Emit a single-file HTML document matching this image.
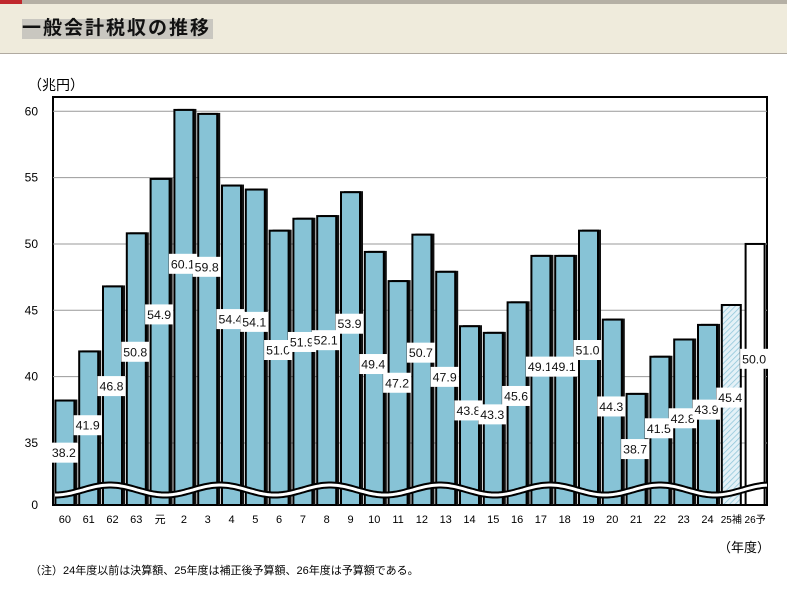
<!DOCTYPE html>
<html><head><meta charset="utf-8">
<style>
body{margin:0;width:787px;height:607px;background:#fff;overflow:hidden;font-family:"Liberation Sans","Noto Sans CJK JP",sans-serif;}
#hdr{position:absolute;left:0;top:0;width:787px;height:53px;background:#efebdc;border-bottom:1px solid #b0aaa0;}
#topbar{position:absolute;left:0;top:0;width:787px;height:4px;background:#b5b0a5;}
#topred{position:absolute;left:0;top:0;width:22px;height:4px;background:#c0282d;}
#title{position:absolute;left:22px;top:19px;height:20px;background:#c9c7c0;font-size:19px;font-weight:bold;line-height:20px;letter-spacing:2px;color:#111;padding-right:2px}
</style></head><body>
<div id="hdr"><div id="topbar"></div><div id="topred"></div>
<div id="title">一般会計税収の推移</div></div>
<svg id="chart" width="787" height="607" style="position:absolute;left:0;top:0"></svg>
<script>
const categories=["60","61","62","63","元","2","3","4","5","6","7","8","9","10","11","12","13","14","15","16","17","18","19","20","21","22","23","24","25補","26予"];
const values=[38.2,41.9,46.8,50.8,54.9,60.1,59.8,54.4,54.1,51.0,51.9,52.1,53.9,49.4,47.2,50.7,47.9,43.8,43.3,45.6,49.1,49.1,51.0,44.3,38.7,41.5,42.8,43.9,45.4,50.0];
const barTypes=["a","a","a","a","a","a","a","a","a","a","a","a","a","a","a","a","a","a","a","a","a","a","a","a","a","a","a","a","hatch","plan"];
const yTicks=[35,40,45,50,55,60];
const NS="http://www.w3.org/2000/svg";
const svg=document.getElementById('chart');
function mk(t,a,p){const e=document.createElementNS(NS,t);for(const k in a)e.setAttribute(k,a[k]);(p||svg).appendChild(e);return e;}
const L=53,R=767,T=97,B=505;
function y(v){return 443-(v-35)*13.27;}
const slot=(R-L)/categories.length;
function x(i){return L+slot*(i+0.5);}
const defs=mk('defs',{});
const pat=mk('pattern',{id:'hatch',width:4,height:4,patternUnits:'userSpaceOnUse',patternTransform:'rotate(45)'},defs);
mk('rect',{width:4,height:4,fill:'#e4f1f7'},pat);
mk('line',{x1:0,y1:0,x2:0,y2:4,stroke:'#8cc4d8','stroke-width':1.5},pat);
let t=mk('text',{x:28,y:90,'font-size':14});t.textContent='（兆円）';

mk('rect',{x:L,y:T,width:R-L,height:B-T,fill:'#fff',stroke:'#000','stroke-width':2});
yTicks.forEach(v=>{const l=mk('line',{x1:L,x2:R,y1:y(v),y2:y(v),stroke:'#999','stroke-width':1});

const tt=mk('text',{x:38,y:y(v)+4,'font-size':12,'text-anchor':'end'});tt.textContent=v;
});
t=mk('text',{x:38,y:B+4,'font-size':12,'text-anchor':'end'});t.textContent='0';

const bw=19;
values.forEach((v,i)=>{const cx=x(i),top=y(v);
if(barTypes[i]==='a'){const s=mk('rect',{x:cx-bw/2+3,y:top-1,width:bw,height:B-top+1,fill:'#111'});
}
const fill=barTypes[i]==='a'?'#87c3d6':(barTypes[i]==='hatch'?'url(#hatch)':'#fff');
const b=mk('rect',{x:cx-bw/2,y:top,width:bw,height:B-top,fill:fill,stroke:'#000','stroke-width':2});

const c=mk('text',{x:cx,y:B+18,'font-size':categories[i].length>2?10:11,'text-anchor':'middle'});c.textContent=categories[i];
});
let d='';
for(let px=L+2;px<=R;px+=2){d+=(d?' L':'M')+px+' '+(490-5*Math.cos((px-110)/110*2*Math.PI)).toFixed(1);}
const w1=mk('path',{d:d,fill:'none',stroke:'#000','stroke-width':7});

mk('path',{d:d,fill:'none',stroke:'#fff','stroke-width':3});
values.forEach((v,i)=>{const cx=x(i)-1,top=y(v),k=0.5-(v-38)*0.005,ly=top+k*(B-top);
const g=mk('g',{});
mk('rect',{x:cx-14,y:ly-10,width:28,height:20,fill:'#fff'},g);
const tx=mk('text',{x:cx,y:ly+4.5,'font-size':12,'text-anchor':'middle',fill:'#111','textLength':24,'lengthAdjust':'spacingAndGlyphs'},g);tx.textContent=v.toFixed(1);});
t=mk('text',{x:770,y:552,'font-size':13,'text-anchor':'end'});t.textContent='（年度）';

t=mk('text',{x:30,y:574,'font-size':11});t.textContent='（注）24年度以前は決算額、25年度は補正後予算額、26年度は予算額である。';

</script>
</body></html>
